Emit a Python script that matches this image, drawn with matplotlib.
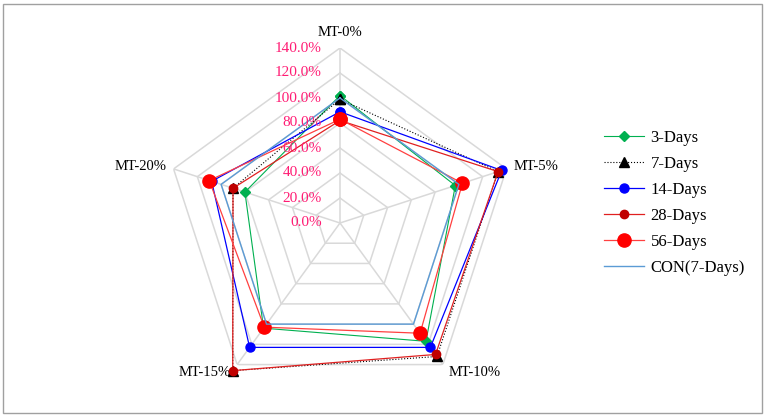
import numpy as np
import matplotlib
matplotlib.use("Agg")
import matplotlib.pyplot as plt
import matplotlib.transforms as mtransforms
from matplotlib.patches import Rectangle

plt.rcParams['font.family'] = ['Liberation Serif', 'DejaVu Serif']

# Data (relative strength, %)
categories = ['MT-0%', 'MT-5%', 'MT-10%', 'MT-15%', 'MT-20%']
days_3 = [102, 97, 117, 104, 80]
days_7 = [99, 133, 132, 146, 90]
days_14 = [89, 136, 123, 123, 108]
days_28 = [82, 133, 130, 146, 90]
days_56 = [83, 103, 109, 103, 110]
con_7 = [100, 100, 100, 100, 100]
r_ticks = [0, 20, 40, 60, 80, 100, 120, 140]

# Styles
GRID = '#D9D9D9'
TICK_COLOR = '#FF1C74'
series = [
    ('3-Days', days_3, dict(color='#00B050', lw=0.8, marker='D', ms=5.5, mfc='#00B050', mec='#00B050')),
    ('7-Days', days_7, dict(color='black', lw=0.8, ls=':', marker='^', ms=7, mfc='black', mec='black')),
    ('14-Days', days_14, dict(color='#0000FF', lw=0.9, marker='o', ms=6.5, mfc='#0000FF', mec='#0000FF')),
    ('28-Days', days_28, dict(color='#E02020', lw=0.9, marker='o', ms=6, mfc='#C00000', mec='#C00000')),
    ('56-Days', days_56, dict(color='#FF4040', lw=0.9, marker='o', ms=9.5, mfc='#FF0000', mec='#FF0000')),
    ('CON(7-Days)', con_7, dict(color='#5B9BD5', lw=1.0)),
]

fig = plt.figure(figsize=(7.65, 4.16), dpi=100)
# centre at (340, 223) px, radius 175 px for 140 %
ax = fig.add_axes([165 / 765, 18 / 416, 350 / 765, 350 / 416], projection='polar')
ax.set_theta_offset(np.pi / 2)
ax.set_theta_direction(-1)
ax.set_ylim(0, 140)
ax.set_xticks([])
ax.set_yticks([])
ax.grid(False)
ax.spines['polar'].set_visible(False)
ax.patch.set_visible(False)

n = len(categories)
angles = np.linspace(0, 2 * np.pi, n, endpoint=False)
closed = np.append(angles, angles[0])

# polygon grid and spokes
for r in r_ticks[1:]:
    ax.plot(closed, [r] * (n + 1), color=GRID, lw=1.1, zorder=1)
for a in angles:
    ax.plot([a, a], [0, r_ticks[-1]], color=GRID, lw=1.1, zorder=1)

# radial tick labels
tick_tr = mtransforms.offset_copy(ax.transData, fig, x=-13, y=0, units='points')
for r in r_ticks:
    ax.text(0, r, f'{r:.1f}%', transform=tick_tr, ha='right', va='center',
            color=TICK_COLOR, fontsize=11, zorder=5)

# category labels
label_pos = [(152, 'center', 'center'), (146, 'left', 'center'), (148, 'left', 'center'),
             (148, 'right', 'center'), (146, 'right', 'center')]
for a, name, (r, ha, va) in zip(angles, categories, label_pos):
    ax.text(a, r, name, ha=ha, va=va, fontsize=10.5)

# data
for name, vals, style in series:
    ax.plot(closed, np.append(vals, vals[0]), label=name, clip_on=False, zorder=3, **style)

fig.legend(loc='center left', bbox_to_anchor=(589 / 765, 1 - 203 / 416), frameon=False,
           fontsize=12, handlelength=2.4, labelspacing=0.6, handletextpad=0.4)

fig.patches.append(Rectangle((3 / 765, 3 / 416), 759 / 765, 409 / 416, transform=fig.transFigure,
                             fill=False, edgecolor='#A0A0A0', lw=1.0))

fig.savefig('out.png', dpi=100)
